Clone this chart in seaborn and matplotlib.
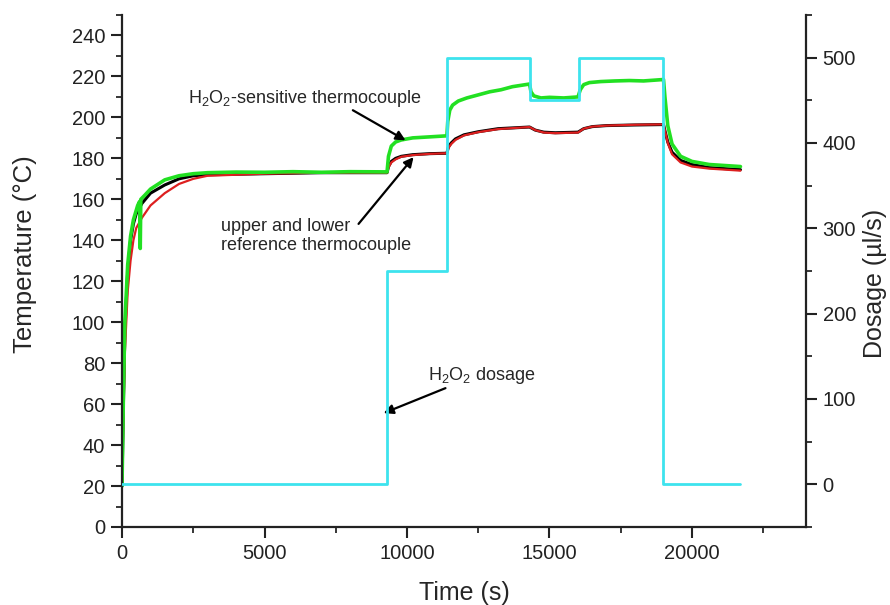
import numpy as np
import pandas as pd
import matplotlib
matplotlib.use("Agg")
import matplotlib.pyplot as plt
from matplotlib.ticker import MultipleLocator
import seaborn as sns

# temperature traces (time in s, temperature in degC)
t_black = [0, 50, 100, 200, 300, 400, 500, 700, 1000, 1500, 2000, 2500, 3000, 5000, 7000, 9300,
           9350, 9450, 9600, 9800, 10200, 10800, 11400, 11450, 11550, 11700, 12000, 12500, 13200, 14300,
           14500, 14800, 15200, 16000, 16200, 16500, 17000, 18000, 19000, 19050, 19150, 19300, 19600,
           20000, 20600, 21700]
temp_black = [20, 60, 95, 125, 140, 148, 153, 158, 163, 167, 170, 171.5, 172, 172.5, 173, 173,
              176, 178.5, 180, 181, 181.8, 182.3, 182.5, 185.5, 187.5, 189.5, 191.5, 193, 194.5, 195.3,
              193.8, 192.8, 192.5, 192.8, 194.5, 195.5, 196, 196.3, 196.5, 193.5, 188, 183, 179,
              177, 175.5, 174.5]

t_red = t_black
temp_red = [20, 55, 85, 115, 130, 140, 146, 151, 157, 163, 167.5, 170, 171.5, 172.5, 173, 173,
            175.5, 178, 179.5, 180.8, 181.6, 182.2, 182.5, 185, 187, 189, 191.2, 192.8, 194.3, 195.3,
            193.8, 192.6, 192.3, 192.6, 194.5, 195.5, 196, 196.4, 196.6, 193.5, 187.5, 182, 178,
            176, 175, 174]

t_green = [0, 50, 100, 200, 300, 400, 550, 620, 640, 660, 800, 1000, 1500, 2000, 2500, 3000, 4000,
           5000, 6000, 7000, 8000, 9300, 9350, 9450, 9600, 9800, 10200, 10800, 11400, 11430, 11500,
           11600, 11800, 12100, 12500, 12900, 13300, 13700, 14300, 14350, 14450, 14700, 15000, 15500,
           16000, 16080, 16200, 16400, 16800, 17300, 17800, 18300, 19000, 19050, 19150, 19300, 19600,
           20000, 20600, 21700]
temp_green = [20, 65, 100, 128, 142, 150, 157, 159, 136, 160, 162, 165, 169.5, 171.5, 172.5, 173, 173.3,
              173.2, 173.5, 173.2, 173.5, 173.4, 181, 186, 188, 189, 190, 190.5, 191, 198, 203.5,
              206, 208, 209.5, 211, 212.5, 213.5, 215, 216.3, 212.5, 210.5, 209.5, 209.8, 209.5,
              210, 213.5, 216, 217, 217.5, 217.8, 218, 217.8, 218.5, 210, 196, 187, 181,
              178.5, 177, 176]

# H2O2 dosage (ul/s), step function
t_dose = [0, 9300, 11400, 14300, 16050, 19000, 21700]
dose = [0, 250, 500, 450, 500, 0, 0]

sns.set_style("ticks")
plt.rcParams["font.family"] = ["Liberation Sans", "DejaVu Sans"]
plt.rcParams["mathtext.fontset"] = "custom"
plt.rcParams["mathtext.rm"] = "Liberation Sans"
plt.rcParams["mathtext.it"] = "Liberation Sans:italic"

fig = plt.figure(figsize=(8.9, 6.05), dpi=100)
ax = fig.add_axes([122 / 890, 1 - 527 / 605, (806 - 122) / 890, (527 - 15) / 605])

sns.lineplot(x=t_black, y=temp_black, ax=ax, color="black", lw=2.2, estimator=None, sort=False)
sns.lineplot(x=t_red, y=temp_red, ax=ax, color="#dd1f1f", lw=1.6, estimator=None, sort=False)
sns.lineplot(x=t_green, y=temp_green, ax=ax, color="#22e022", lw=2.6, estimator=None, sort=False)

ax2 = ax.twinx()
sns.lineplot(x=t_dose, y=dose, ax=ax2, color="#3de3ee", lw=2.0, estimator=None, sort=False,
             drawstyle="steps-post")

ax.set_xlim(0, 24000)
ax.set_ylim(0, 250)
ax2.set_ylim(-50, 550)

ax.xaxis.set_major_locator(MultipleLocator(5000))
ax.xaxis.set_minor_locator(MultipleLocator(2500))
ax.yaxis.set_major_locator(MultipleLocator(20))
ax.yaxis.set_minor_locator(MultipleLocator(10))
ax2.yaxis.set_major_locator(MultipleLocator(100))
ax2.yaxis.set_minor_locator(MultipleLocator(50))

for a in (ax, ax2):
    a.tick_params(which="major", direction="out", length=8, width=1.5, labelsize=14.5,
                  colors="#222222", pad=4)
    a.tick_params(which="minor", direction="out", length=4.5, width=1.3)
    for s in a.spines.values():
        s.set_linewidth(1.6)
        s.set_color("#222222")
    a.spines["top"].set_visible(False)
ax2.spines["left"].set_visible(False)
ax2.spines["bottom"].set_visible(False)
ax.spines["right"].set_visible(False)
ax2.spines["right"].set_visible(True)

ax.set_xlabel("Time (s)", fontsize=18)
ax.set_ylabel("Temperature (°C)", fontsize=18.5)
ax2.set_ylabel("Dosage (µl/s)", fontsize=18)
ax.xaxis.set_label_coords(0.5, -0.105)
ax.yaxis.set_label_coords(-0.124, 0.532)
ax2.yaxis.set_label_coords(1.083, 0.476)

arrow = dict(arrowstyle="-|>", color="black", lw=1.6, mutation_scale=14, shrinkA=0, shrinkB=0)
ax.text(2320, 206.8, "H$_2$O$_2$-sensitive thermocouple", fontsize=13, ha="left", va="baseline")
ax.annotate("", xy=(9950, 188.8), xytext=(8100, 203.5), arrowprops=arrow)
ax.text(3480, 151, "upper and lower\nreference thermocouple", fontsize=13, ha="left", va="top",
        linespacing=1.2)
ax.annotate("", xy=(10230, 180.6), xytext=(8300, 148), arrowprops=arrow)
ax.text(10720, 71.7, "H$_2$O$_2$ dosage", fontsize=13, ha="left", va="baseline")
ax.annotate("", xy=(9180, 55.6), xytext=(11350, 67.8), arrowprops=arrow)

fig.savefig("out.png", dpi=100)
